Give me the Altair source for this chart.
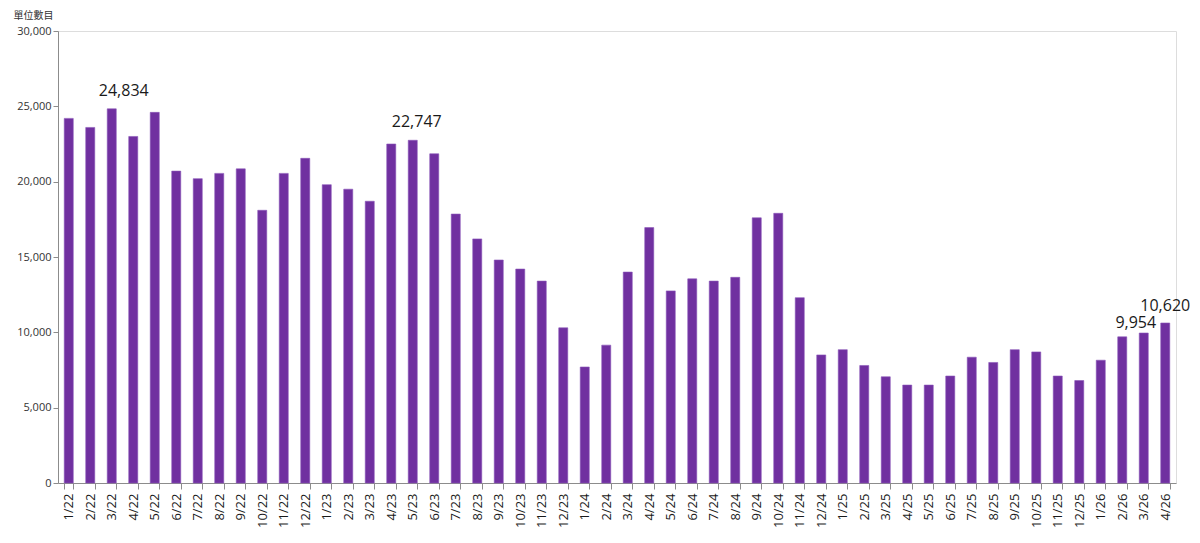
import altair as alt
import pandas as pd

months = ["1/22","2/22","3/22","4/22","5/22","6/22","7/22","8/22","9/22","10/22","11/22","12/22",
          "1/23","2/23","3/23","4/23","5/23","6/23","7/23","8/23","9/23","10/23","11/23","12/23",
          "1/24","2/24","3/24","4/24","5/24","6/24","7/24","8/24","9/24","10/24","11/24","12/24",
          "1/25","2/25","3/25","4/25","5/25","6/25","7/25","8/25","9/25","10/25","11/25","12/25",
          "1/26","2/26","3/26","4/26"]
values = [24200, 23600, 24834, 23000, 24600, 20700, 20200, 20550, 20850, 18100, 20550, 21550,
          19800, 19500, 18700, 22500, 22747, 21850, 17850, 16200, 14800, 14200, 13400, 10300,
          7700, 9150, 14000, 16950, 12750, 13550, 13400, 13650, 17600, 17900, 12300, 8500,
          8850, 7800, 7050, 6500, 6500, 7100, 8350, 8000, 8850, 8700, 7100, 6800,
          8150, 9700, 9954, 10620]
labelled = ["3/22", "5/23", "3/26", "4/26"]
y_ticks = [0, 5000, 10000, 15000, 20000, 25000, 30000]

df = pd.DataFrame({"month": months, "value": values})
df["label"] = [f"{v:,}" for v in values]

x_enc = alt.X("month:N", sort=months, title=None,
              scale=alt.Scale(paddingInner=0.58, paddingOuter=0.29),
              axis=alt.Axis(labelAngle=270, labelFont="Open Sans", labelFontSize=13,
                            labelColor="#1a1a1a", tickBand="extent", tickSize=6,
                            domainColor="#8c8c8c", tickColor="#8c8c8c", labelPadding=4))
y_enc = alt.Y("value:Q", title="單位數目",
              scale=alt.Scale(domain=[0, 30000], nice=False),
              axis=alt.Axis(values=y_ticks, format=",.0f",
                            labelFont="Open Sans", labelFontSize=11, labelColor="#333333",
                            tickSize=5, domainColor="#8c8c8c", tickColor="#8c8c8c", grid=False,
                            titleAngle=0, titleX=-45, titleY=-16, titleAlign="left",
                            titleBaseline="middle", titleFont="Noto Sans CJK TC",
                            titleFontSize=10, titleFontWeight="normal", titleColor="#333333"))

bars = alt.Chart(df).mark_bar(color="#7030A0", stroke="#8a55b8", strokeWidth=0.6).encode(x=x_enc, y=y_enc)

def label_layer(m, dx, dy):
    return alt.Chart(df).transform_filter(alt.datum.month == m).mark_text(
        font="Open Sans", fontSize=16, color="#1a1a1a", dx=dx, dy=dy, baseline="middle"
    ).encode(x=alt.X("month:N", sort=months), y="value:Q", text="label:N")

chart = alt.layer(
    bars,
    label_layer(labelled[0], 12, -18),
    label_layer(labelled[1], 4, -18),
    label_layer(labelled[2], -8, -10),
    label_layer(labelled[3], 0, -17),
).properties(
    width=1118, height=452,
    padding={"left": 5, "top": 2, "right": 0, "bottom": 0},
).configure_view(stroke=None).configure(background="white")

chart.save("out.html", embed_options={"renderer": "svg", "actions": False})
